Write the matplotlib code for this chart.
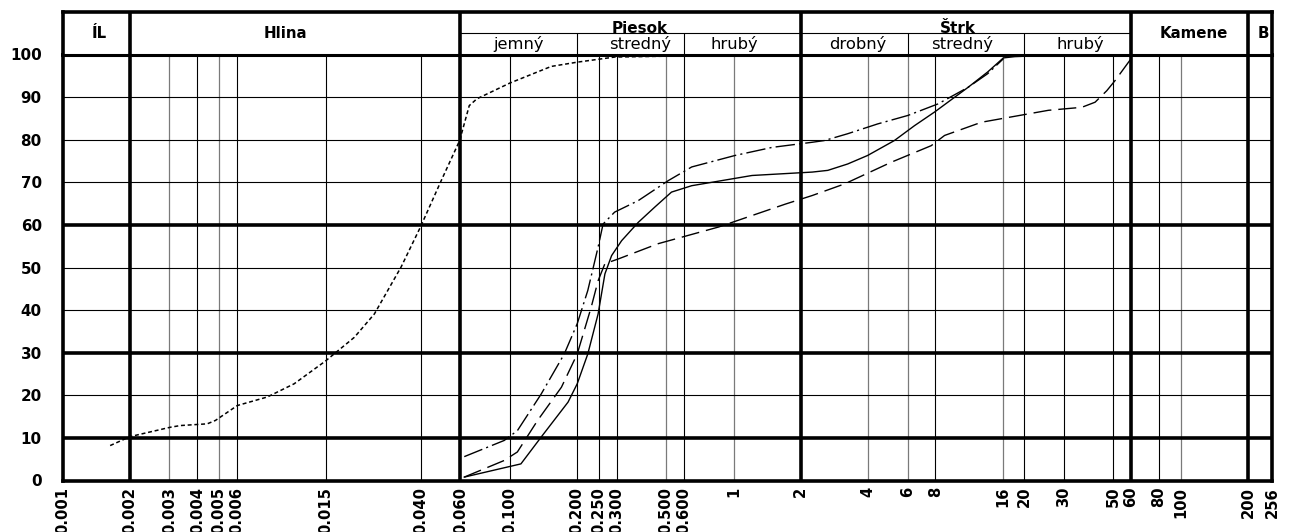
import matplotlib
matplotlib.use('Agg')
import matplotlib.pyplot as plt

plt.rcParams['font.family'] = ['DejaVu Sans']

# grain size axis (mm) and tick labels
tick_values = [0.001, 0.002, 0.003, 0.004, 0.005, 0.006, 0.015, 0.040, 0.060,
               0.100, 0.200, 0.250, 0.300, 0.500, 0.600, 1, 2, 4, 6, 8,
               16, 20, 30, 50, 60, 80, 100, 200, 256]
tick_labels = ['0.001', '0.002', '0.003', '0.004', '0.005', '0.006', '0.015',
               '0.040', '0.060', '0.100', '0.200', '0.250', '0.300', '0.500',
               '0.600', '1', '2', '4', '6', '8', '16', '20', '30', '50', '60',
               '80', '100', '200', '256']
percent_ticks = [0, 10, 20, 30, 40, 50, 60, 70, 80, 90, 100]

# fine-grained soil (dotted)
fine_d = [0.00163, 0.002, 0.00303, 0.00336, 0.00443, 0.00482, 0.00604, 0.00822,
          0.01084, 0.01493, 0.02014, 0.02477, 0.0326, 0.0398, 0.0493, 0.0596,
          0.0658, 0.0712, 0.1, 0.153, 0.2, 0.294, 0.494, 0.72]
fine_p = [8.2, 10.3, 12.5, 12.9, 13.3, 14.1, 17.6, 19.6, 22.7, 28.0, 33.6, 39.1,
          50.1, 59.5, 70.4, 79.8, 88.0, 89.6, 93.3, 97.2, 98.2, 99.4, 99.6, 99.9]

# sandy gravel (solid)
solid_d = [0.0625, 0.112, 0.138, 0.182, 0.2, 0.223, 0.248, 0.266, 0.285, 0.316,
           0.375, 0.445, 0.528, 0.65, 1.21, 2.25, 2.64, 3.24, 3.98, 5.24, 6.45,
           7.93, 11.2, 13.7, 16.1, 18.1, 28.0]
solid_p = [0.8, 3.9, 10.2, 18.4, 22.7, 29.7, 39.1, 48.5, 52.8, 56.3, 60.6, 64.2,
           67.7, 69.2, 71.6, 72.4, 72.8, 74.3, 76.3, 79.8, 83.3, 86.5, 92.3,
           95.9, 99.2, 99.5, 99.9]

# sandy gravel (dash-dot)
dashdot_d = [0.0625, 0.0943, 0.108, 0.138, 0.175, 0.2, 0.223, 0.248, 0.261,
             0.294, 0.375, 0.511, 0.65, 1.016, 1.49, 2.25, 2.55, 3.24, 4.41,
             6.03, 8.21, 11.2, 13.7, 16.1]
dashdot_p = [5.6, 9.4, 11.7, 20.3, 29.7, 36.8, 44.6, 54.8, 60.2, 63.0, 65.7,
             70.4, 73.6, 76.3, 78.2, 79.4, 79.8, 81.4, 83.7, 85.7, 88.4, 92.3,
             95.5, 99.0]

# gravel with stones (long dashes)
dashed_d = [0.0625, 0.0943, 0.108, 0.133, 0.17, 0.2, 0.231, 0.248, 0.266, 0.305,
            0.461, 0.857, 1.71, 2.25, 3.13, 5.07, 7.66, 8.79, 12.85, 25.6, 36.1,
            41.4, 46.7, 50.9, 61.5]
dashed_p = [0.8, 4.7, 6.7, 14.1, 21.9, 29.7, 40.7, 46.9, 50.9, 52.0, 55.6, 59.5,
            64.9, 66.9, 69.6, 74.7, 78.6, 81.0, 84.1, 86.9, 87.6, 88.8, 91.5,
            93.9, 99.8]

# header: fraction boundaries and names
main_bounds = [0.002, 0.06, 2, 60, 200]
sub_bounds = [0.2, 0.6, 6, 20]
main_names = ['ÍL', 'Hlina', 'Kamene', 'B']
main_name_x = [0.00146, 0.0099, 114, 235]
group_names = ['Piesok', 'Štrk']
group_name_x = [0.381, 10.07]
sub_names = ['jemný', 'stredný', 'hrubý', 'drobný', 'stredný', 'hrubý']
sub_name_x = [0.109, 0.381, 1.01, 3.59, 10.5, 35.6]

thick_y = [10, 30, 60]
gray_x = [0.003, 0.005, 0.5, 1, 4, 6, 16, 100]

W, H = 1292, 532
fig = plt.figure(figsize=(W / 100, H / 100), dpi=100)
x_left, x_right = 62.7, 1272
y_top, y_bottom, y_head = 54.5, 480.5, 12

ax = fig.add_axes([x_left / W, 1 - y_bottom / H,
                   (x_right - x_left) / W, (y_bottom - y_top) / H])
axh = fig.add_axes([x_left / W, 1 - y_top / H,
                    (x_right - x_left) / W, (y_top - y_head) / H])

for a in (ax, axh):
    a.set_xscale('log')
    a.set_xlim(0.001, 256)
    for s in a.spines.values():
        s.set_linewidth(2.6)
        s.set_color('black')

ax.set_ylim(0, 100)

# grid
for v in tick_values[1:-1]:
    if v in main_bounds:
        ax.axvline(v, color='black', lw=2.6, zorder=1)
    elif v in gray_x:
        ax.axvline(v, color='#7a7a7a', lw=0.9, zorder=1)
    else:
        ax.axvline(v, color='black', lw=0.8, zorder=1)
for p in percent_ticks[1:-1]:
    ax.axhline(p, color='black', lw=2.6 if p in thick_y else 0.8, zorder=1)

# curves
ax.plot(fine_d, fine_p, color='black', lw=1.1, ls=(0, (2.6, 1.8)), zorder=3)
ax.plot(solid_d, solid_p, color='black', lw=1.0, zorder=3)
ax.plot(dashdot_d, dashdot_p, color='black', lw=1.0,
        ls=(0, (14, 3, 1.5, 3)), zorder=3)
ax.plot(dashed_d, dashed_p, color='black', lw=1.0, ls=(0, (13, 5)), zorder=3)

ax.set_xticks(tick_values)
ax.set_xticklabels(tick_labels, rotation=90, fontweight='bold', fontsize=10.6)
ax.minorticks_off()
ax.set_yticks(percent_ticks)
ax.set_yticklabels([str(p) for p in percent_ticks], fontweight='bold',
                   fontsize=10.9)
ax.tick_params(axis='x', length=0, pad=4.5)
ax.tick_params(axis='y', length=0, pad=15)

# header table
axh.set_ylim(0, 2)
axh.set_xticks([])
axh.set_yticks([])
axh.minorticks_off()
axh.vlines(main_bounds, 0, 2, color='black', lw=2.6)
axh.vlines(sub_bounds, 0, 1, color='black', lw=0.8)
axh.hlines(1, 0.06, 60, color='black', lw=0.8)
axh.spines['bottom'].set_linewidth(2.2)

for name, x in zip(main_names, main_name_x):
    axh.text(x, 1.0, name, ha='center', va='center', fontsize=10.8,
             fontweight='bold')
for name, x in zip(group_names, group_name_x):
    axh.text(x, 1.0, name, ha='center', va='baseline', fontsize=11,
             fontweight='bold')
for name, x in zip(sub_names, sub_name_x):
    axh.text(x, 0.5, name, ha='center', va='center', fontsize=11.8)

fig.savefig('out.png', dpi=100)
